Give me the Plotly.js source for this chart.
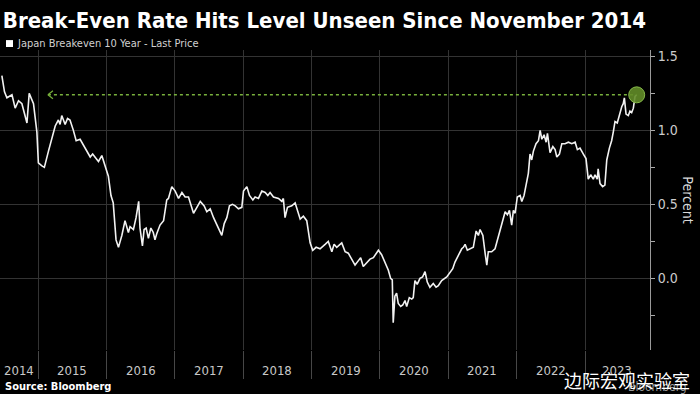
<!DOCTYPE html>
<html><head><meta charset="utf-8">
<script src="https://cdn.plot.ly/plotly-3.0.1.min.js"></script>
<style>html,body{margin:0;padding:0;background:#000;}#chart{width:700px;height:394px;}</style>
</head><body><div id="chart"></div>
<script>
const dates = [
'2014-06-21','2014-07-05','2014-07-18','2014-08-01','2014-08-14','2014-08-31','2014-09-18','2014-10-06','2014-10-18','2014-11-02','2014-11-14','2014-11-29','2014-12-07','2014-12-25',
'2015-01-02','2015-01-21','2015-02-03','2015-02-25','2015-03-18','2015-04-02','2015-04-19','2015-04-28','2015-05-07','2015-05-25','2015-06-07','2015-06-20','2015-07-08','2015-07-23','2015-08-13','2015-09-09','2015-10-06','2015-10-19','2015-11-01','2015-11-19','2015-12-07','2015-12-25',
'2016-01-11','2016-01-25','2016-02-06','2016-02-21','2016-03-05','2016-03-14','2016-03-23','2016-04-09','2016-04-27','2016-05-06','2016-05-24','2016-06-07','2016-06-21','2016-06-28','2016-07-11','2016-07-20','2016-07-31','2016-08-12','2016-08-25','2016-09-07','2016-09-16','2016-09-25','2016-10-13','2016-11-01','2016-11-18','2016-11-27','2016-12-15',
'2017-01-02','2017-01-20','2017-02-07','2017-02-24','2017-03-14','2017-03-27','2017-04-10','2017-04-28','2017-05-16','2017-06-06','2017-06-20','2017-07-08','2017-07-26','2017-08-21','2017-09-08','2017-09-21','2017-10-05','2017-10-19','2017-11-04','2017-11-19','2017-12-06','2017-12-24',
'2018-01-02','2018-01-20','2018-02-03','2018-02-21','2018-03-05','2018-03-23','2018-04-10','2018-04-28','2018-05-12','2018-05-24','2018-06-11','2018-07-08','2018-07-26','2018-08-03','2018-08-12','2018-08-25','2018-09-17','2018-10-05','2018-10-23','2018-11-01','2018-11-18','2018-12-06','2018-12-24',
'2019-01-07','2019-01-25','2019-02-15','2019-03-14','2019-03-31','2019-04-19','2019-05-01','2019-05-15','2019-06-11','2019-06-29','2019-07-16','2019-08-03','2019-08-21','2019-09-08','2019-09-20','2019-10-04','2019-10-23','2019-11-09','2019-11-27','2019-12-24',
'2020-01-10','2020-01-28','2020-02-15','2020-02-27','2020-03-07','2020-03-12','2020-03-21','2020-03-30','2020-04-08','2020-04-21','2020-05-02','2020-05-14','2020-05-23','2020-06-06','2020-06-19','2020-06-27','2020-07-06','2020-07-18','2020-08-02','2020-08-16','2020-08-29','2020-09-10','2020-09-24','2020-10-12','2020-10-27','2020-11-08','2020-11-26','2020-12-23',
'2021-01-10','2021-01-24','2021-02-05','2021-02-23','2021-03-13','2021-03-22','2021-03-31','2021-04-12','2021-04-27','2021-05-14','2021-05-29','2021-06-10','2021-06-19','2021-07-04','2021-07-16','2021-07-25','2021-08-02','2021-08-20','2021-09-07','2021-09-25','2021-10-13','2021-10-31','2021-11-12','2021-11-23','2021-12-05','2021-12-14','2021-12-23',
'2022-01-04','2022-01-19','2022-01-28','2022-02-09','2022-02-20','2022-03-04','2022-03-13','2022-03-22','2022-03-31','2022-04-14','2022-04-27','2022-05-06','2022-05-15','2022-05-27','2022-06-07','2022-06-14','2022-06-28','2022-07-13','2022-07-25','2022-08-03','2022-08-17','2022-08-30','2022-09-16','2022-10-04','2022-10-22','2022-11-09','2022-11-21','2022-12-05','2022-12-23',
'2023-01-06','2023-01-18','2023-01-31','2023-02-14','2023-02-23','2023-03-07','2023-03-12','2023-03-22','2023-04-05','2023-04-17','2023-04-27','2023-05-11','2023-05-23','2023-06-01','2023-06-10','2023-06-22','2023-07-03','2023-07-16','2023-07-24','2023-07-30','2023-08-08','2023-08-20','2023-08-29','2023-09-07','2023-09-16','2023-09-25','2023-10-04'
];
const values = [
1.37,1.26,1.22,1.23,1.24,1.15,1.20,1.18,1.13,1.05,1.25,1.20,1.18,0.99,
0.78,0.76,0.75,0.86,0.96,1.03,1.07,1.04,1.10,1.04,1.08,1.07,1.00,0.93,0.94,0.88,0.82,0.84,0.82,0.79,0.83,0.75,
0.69,0.56,0.51,0.26,0.21,0.25,0.29,0.39,0.31,0.35,0.33,0.41,0.52,0.34,0.22,0.33,0.34,0.27,0.34,0.31,0.26,0.30,0.36,0.39,0.53,0.54,0.62,
0.59,0.54,0.58,0.55,0.55,0.50,0.44,0.48,0.52,0.49,0.45,0.47,0.41,0.34,0.29,0.37,0.41,0.49,0.50,0.49,0.47,0.48,
0.59,0.62,0.56,0.53,0.55,0.54,0.59,0.58,0.56,0.58,0.55,0.54,0.52,0.54,0.41,0.48,0.49,0.51,0.44,0.40,0.42,0.39,0.24,
0.19,0.21,0.20,0.23,0.25,0.18,0.23,0.21,0.24,0.18,0.17,0.13,0.09,0.12,0.14,0.08,0.11,0.13,0.14,0.19,
0.16,0.11,0.055,0.0,-0.01,-0.30,-0.12,-0.10,-0.17,-0.19,-0.18,-0.15,-0.19,-0.13,-0.14,-0.13,-0.015,-0.04,0.0,0.01,0.045,-0.025,-0.06,-0.035,-0.06,-0.05,-0.015,0.01,
0.045,0.065,0.11,0.16,0.20,0.21,0.23,0.19,0.20,0.21,0.32,0.29,0.33,0.29,0.17,0.09,0.18,0.18,0.20,0.28,0.36,0.45,0.43,0.46,0.36,0.46,0.44,
0.55,0.56,0.52,0.56,0.64,0.71,0.84,0.80,0.86,0.91,0.93,1.00,0.94,0.97,0.92,0.98,0.85,0.89,0.87,0.82,0.84,0.91,0.91,0.92,0.91,0.92,0.87,0.88,0.84,
0.81,0.67,0.70,0.67,0.70,0.67,0.74,0.64,0.62,0.63,0.80,0.88,0.93,0.99,1.06,1.05,1.11,1.16,1.18,1.22,1.11,1.10,1.13,1.12,1.15,1.23,1.24
];
const yearLabels = ['2014','2015','2016','2017','2018','2019','2020','2021','2022','2023'];
const xRange = ['2014-06-11','2023-12-14'];
const yRange = [-0.484, 1.543];
const yTicks = [0, 0.5, 1.0, 1.5];
const arrowTip = '2015-02-22';
const seriesName = 'Japan Breakeven 10 Year - Last Price';

const FONT = '"Liberation Sans Narrow", "DejaVu Sans Condensed", "Open Sans", sans-serif';
const lastDate = dates[dates.length-1];
const lastVal = values[values.length-1];

const t0 = Date.parse(xRange[0]), t1 = Date.parse(xRange[1]);
const yearStarts = yearLabels.map(y => y + '-01-01');
const gridDates = yearStarts.filter(d => Date.parse(d) > t0 && Date.parse(d) < t1);
const iso = ms => new Date(ms).toISOString().slice(0,10);

const annotations = yearLabels.map(y => {
  const s = Math.max(Date.parse(y + '-01-01'), t0);
  const e = Math.min(Date.parse((+y+1) + '-01-01'), t1);
  return {x: iso((s+e)/2), xref:'x', y:-0.067, yref:'paper', text:y, showarrow:false,
    xanchor:'center', yanchor:'middle', font:{family:FONT, size:13, color:'#c8c8c8'}};
});
annotations.push(
  {x:0.023, xref:'paper', y:1.023, yref:'paper', text:seriesName, showarrow:false, xanchor:'left', yanchor:'middle',
   font:{family:FONT, size:11, color:'#d0d0d0'}},
  {x:1.058, xref:'paper', y:0.5, yref:'paper', text:'Percent', textangle:90, showarrow:false, xanchor:'center', yanchor:'middle',
   font:{family:FONT, size:14, color:'#d8d8d8'}},
  {x:0.004, xref:'paper', y:-0.12, yref:'paper', text:'<b>Source: Bloomberg</b>', showarrow:false, xanchor:'left', yanchor:'middle',
   font:{family:FONT, size:11, color:'#ffffff'}},
  {x:1.06, xref:'paper', y:-0.122, yref:'paper', text:'Bloomberg', showarrow:false, xanchor:'right', yanchor:'middle',
   font:{family:FONT, size:12, color:'#9a9a9a'}},
  {x:0.965, xref:'paper', y:-0.1, yref:'paper', text:'边际宏观实验室', showarrow:false, xanchor:'center', yanchor:'middle',
   font:{family:'"Noto Sans CJK SC", sans-serif', size:18, color:'#ffffff'}}
);

const green = '#78b03c';
const shapes = [
  {type:'line', xref:'x', yref:'y', x0:arrowTip, x1:lastDate, y0:lastVal, y1:lastVal,
   line:{color:green, width:1.5, dash:'dot'}},
  {type:'line', xref:'x', yref:'y', xsizemode:'pixel', ysizemode:'pixel', xanchor:arrowTip, yanchor:lastVal,
   x0:0, x1:5, y0:0, y1:4, line:{color:green, width:1.2}},
  {type:'line', xref:'x', yref:'y', xsizemode:'pixel', ysizemode:'pixel', xanchor:arrowTip, yanchor:lastVal,
   x0:0, x1:5, y0:0, y1:-4, line:{color:green, width:1.2}},
  {type:'circle', xref:'x', yref:'y', xsizemode:'pixel', ysizemode:'pixel', xanchor:lastDate, yanchor:lastVal,
   x0:-8, x1:8, y0:-8, y1:8, fillcolor:'rgba(98,140,40,0.9)', line:{color:'#86b84a', width:1}, layer:'above'},
  {type:'rect', xref:'paper', yref:'paper', x0:0.0092, x1:0.02, y0:1.01, y1:1.033, fillcolor:'#ffffff', line:{width:0}}
];

const trace = {x:dates, y:values, type:'scatter', mode:'lines', line:{color:'#f2f2f2', width:1.6}, hoverinfo:'skip', showlegend:false};

const layout = {
  width:700, height:394,
  paper_bgcolor:'#000', plot_bgcolor:'#000',
  margin:{l:0, r:50, t:50, b:44},
  title:{text:'<b>Break-Even Rate Hits Level Unseen Since November 2014</b>', x:0.004, xanchor:'left', xref:'container',
         y:0.948, yref:'container', yanchor:'middle', font:{family:FONT, size:22, color:'#ffffff'}},
  xaxis:{type:'date', range:xRange, tickvals:gridDates, ticktext:gridDates.map(()=>''), showticklabels:false,
         ticks:'outside', ticklen:28, tickcolor:'#474747', tickwidth:1,
         showgrid:true, gridcolor:'#333333', gridwidth:1, zeroline:false, showline:false, fixedrange:true},
  yaxis:{side:'right', range:yRange, tickvals:yTicks, tickformat:'.1f', ticks:'outside', ticklen:4, tickcolor:'#aaaaaa',
         showline:true, linecolor:'#9a9a9a', linewidth:1, showgrid:true, gridcolor:'#333333', zeroline:false,
         tickfont:{family:FONT, size:14, color:'#cccccc'},
         minor:{tickvals:[-0.25,0.25,0.75,1.25], ticks:'outside', ticklen:4, tickcolor:'#aaaaaa', showgrid:false}},
  annotations, shapes
};

Plotly.newPlot('chart', [trace], layout, {staticPlot:true, displayModeBar:false});
</script>
</body></html>
